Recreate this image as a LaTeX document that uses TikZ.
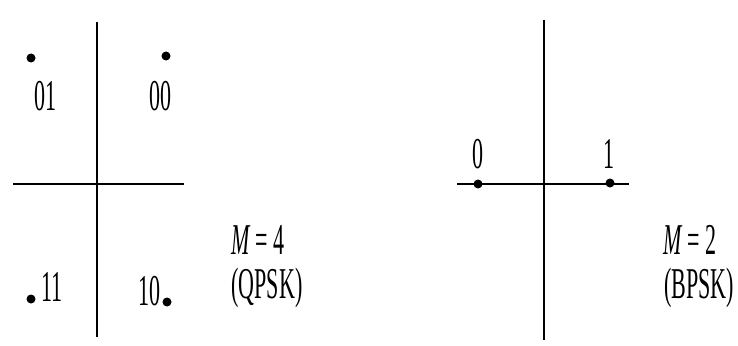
\documentclass[tikz,border=0pt]{standalone}
\usepackage{fontspec}
\setmainfont{Liberation Serif}
\begin{document}
\begin{tikzpicture}[x=1pt, y=-1pt,
    dot/.style={circle, fill=black, inner sep=0pt, minimum size=9pt},
    lbl/.style={font=\fontsize{44}{48}\selectfont, inner sep=0pt, xscale=0.5, transform shape},
    axis/.style={line width=1.3pt}]
    \useasboundingbox (0,0) rectangle (738,345);
    % QPSK axes
    \coordinate (qt) at (97,22);
    \coordinate (qb) at (97,337);
    \coordinate (ql) at (13,184);
    \coordinate (qr) at (184,184);
    \draw[axis] (qt) -- (qb);
    \draw[axis] (ql) -- (qr);
    % QPSK points
    \foreach \name/\x/\y in {01/31/58, 00/166/56, 11/31/299, 10/167/302} {
        \node[dot] (q\name) at (\x,\y) {};
    }
    \node[lbl] (l01) at (45,96) {01};
    \node[lbl] (l00) at (160,96) {00};
    \node[lbl] (l11) at (52,287) {11};
    \node[lbl] (l10) at (149,291) {10};
    \node[lbl] (m4) at (258,240) {\textit{M} = 4};
    \node[lbl] (qpsk) at (267,288) {(QPSK)};
    % BPSK axes
    \coordinate (bt) at (544,20);
    \coordinate (bb) at (544,340);
    \coordinate (bl) at (457,184);
    \coordinate (br) at (629,184);
    \draw[axis] (bt) -- (bb);
    \draw[axis] (bl) -- (br);
    % BPSK points
    \node[dot] (b0) at (478,184) {};
    \node[dot] (b1) at (610,183) {};
    \node[lbl] (l0) at (478,154) {0};
    \node[lbl] (l1) at (609,154) {1};
    \node[lbl] (m2) at (690,240) {\textit{M} = 2};
    \node[lbl] (bpsk) at (699,288) {(BPSK)};
\end{tikzpicture}
\end{document}
